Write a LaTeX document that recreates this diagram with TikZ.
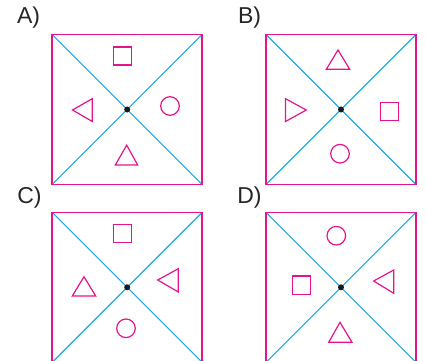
\documentclass[tikz,border=0pt]{standalone}
\usepackage{fontspec}
\setmainfont{Liberation Sans}
\definecolor{magentaline}{RGB}{230,20,140}
\definecolor{cyanline}{RGB}{35,170,225}

\begin{document}
\begin{tikzpicture}[
  x=1pt,y=-1pt,
  panel/.style={minimum size=150pt,inner sep=0pt,outer sep=0pt},
  diag/.style={draw=cyanline,line width=1.1pt},
  frame/.style={draw=magentaline,line width=1.5pt},
  fig/.style={draw=magentaline,line width=1.2pt,line join=miter},
  lbl/.style={font=\fontsize{23}{23}\selectfont,text=black!85,inner sep=0pt},
  dot/.style={circle,fill=black!90,minimum size=6pt,inner sep=0pt}
]
  \useasboundingbox (0,0) rectangle (426,361);

  % panels
  \node[panel] (pA) at (127.2,109.5) {};
  \node[panel] (pB) at (341,109.5) {};
  \node[panel] (pC) at (127.2,287.3) {};
  \node[panel] (pD) at (341,287.3) {};

  \foreach \p in {pA,pB,pC,pD} {
    \draw[diag] (\p.north west) -- (\p.south east);
    \draw[diag] (\p.north east) -- (\p.south west);
    \draw[frame] (\p.north west) rectangle (\p.south east);
    \node[dot] at (\p.center) {};
  }

  % labels
  \node[lbl] (lA) at (28.5,18) {A)};
  \node[lbl] (lB) at (249.5,18) {B)};
  \node[lbl] (lC) at (29.5,198) {C)};
  \node[lbl] (lD) at (249.5,198) {D)};

  % A
  \draw[fig] (113.5,47) rectangle (131.5,65);
  \draw[fig] (170,106) circle (9.3);
  \draw[fig] (72.5,110) -- (92.3,98.7) -- (92.3,121.5) -- cycle;
  \draw[fig] (126.7,145.2) -- (137.7,165) -- (115.3,165) -- cycle;

  % B
  \draw[fig] (338,50) -- (349.7,69.3) -- (326.3,69.3) -- cycle;
  \draw[fig] (306.3,110) -- (285.5,98.7) -- (285.5,121.5) -- cycle;
  \draw[fig] (380.5,102.3) rectangle (398.5,120.3);
  \draw[fig] (340,153.7) circle (9.3);

  % C
  \draw[fig] (113.5,224.2) rectangle (131.5,242.2);
  \draw[fig] (84,276.7) -- (95.7,296) -- (72.3,296) -- cycle;
  \draw[fig] (157.7,280) -- (178.3,268.7) -- (178.3,292) -- cycle;
  \draw[fig] (126,328.3) circle (9.3);

  % D
  \draw[fig] (336.3,235.7) circle (9.3);
  \draw[fig] (292.5,276) rectangle (310.5,294.2);
  \draw[fig] (373.7,281) -- (393.7,270) -- (393.7,293.3) -- cycle;
  \draw[fig] (340,322.3) -- (352,342.3) -- (328.7,342.3) -- cycle;
\end{tikzpicture}
\end{document}
